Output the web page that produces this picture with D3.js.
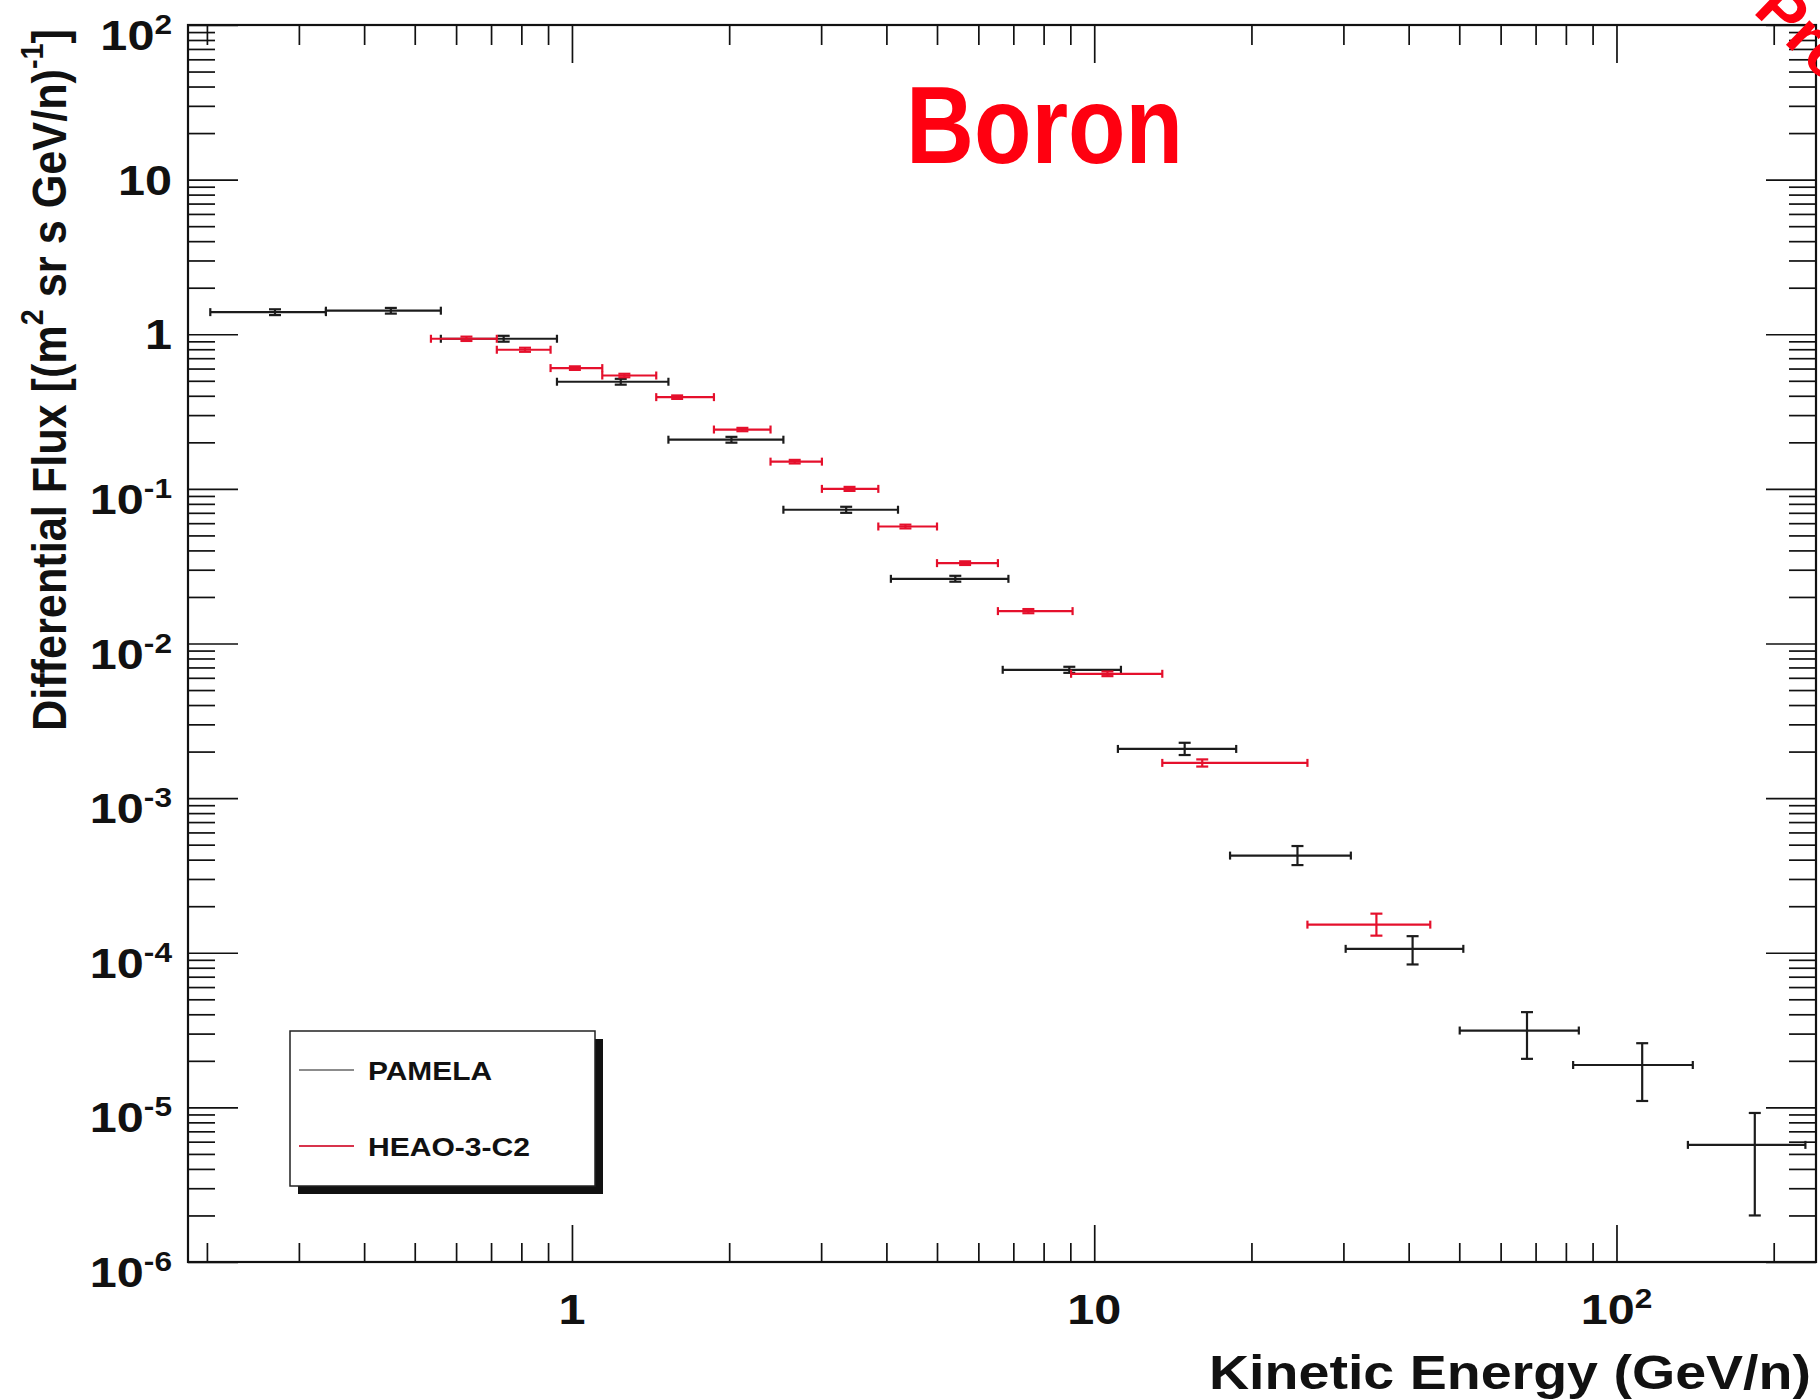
<!DOCTYPE html>
<html>
<head>
<meta charset="utf-8">
<script src="https://cdn.jsdelivr.net/npm/d3@7"></script>
<style>
body { margin: 0; background: #fff; }
text { font-family: "Liberation Sans", Arial, Helvetica, sans-serif; font-weight: bold; fill: #111; }
</style>
</head>
<body>
<script>
// PAMELA boron flux (bin centre, bin edges, flux and its error range)
var pamelaEnergy = [0.27, 0.45, 0.74, 1.24, 2.02, 3.35, 5.42, 8.96, 14.9, 24.5, 40.7, 67.4, 112, 184];
var pamelaELow   = [0.203, 0.338, 0.561, 0.936, 1.53, 2.54, 4.08, 6.68, 11.1, 18.2, 30.3, 50.1, 82.6, 137];
var pamelaEHigh  = [0.338, 0.561, 0.936, 1.53, 2.54, 4.21, 6.85, 11.25, 18.7, 31.0, 50.9, 84.7, 140, 230];
var pamelaFlux   = [1.39, 1.42, 0.935, 0.493, 0.208, 0.0733, 0.0262, 0.00676, 0.00208, 4.25e-4, 1.06e-4, 3.14e-5, 1.88e-5, 5.72e-6];
var pamelaFLow   = [1.33, 1.36, 0.895, 0.472, 0.199, 0.070, 0.0251, 0.00646, 0.00190, 3.69e-4, 8.4e-5, 2.06e-5, 1.10e-5, 2.0e-6];
var pamelaFHigh  = [1.45, 1.48, 0.977, 0.515, 0.217, 0.0766, 0.0274, 0.00707, 0.00228, 4.9e-4, 1.28e-4, 4.13e-5, 2.6e-5, 9.2e-6];

// HEAO-3-C2 boron flux
var heaoEnergy = [0.628, 0.813, 1.013, 1.26, 1.59, 2.12, 2.67, 3.40, 4.35, 5.66, 7.48, 10.6, 16.1, 34.7];
var heaoELow   = [0.537, 0.718, 0.910, 1.143, 1.45, 1.87, 2.40, 3.01, 3.86, 5.0, 6.54, 9.03, 13.5, 25.6];
var heaoEHigh  = [0.718, 0.910, 1.143, 1.45, 1.87, 2.40, 3.01, 3.86, 5.0, 6.54, 9.09, 13.5, 25.6, 44.0];
var heaoFlux   = [0.935, 0.794, 0.604, 0.541, 0.392, 0.242, 0.150, 0.100, 0.0571, 0.0331, 0.0162, 0.00637, 0.00169, 1.52e-4];
var heaoFLow   = [0.905, 0.770, 0.588, 0.527, 0.382, 0.236, 0.146, 0.097, 0.0555, 0.0322, 0.0157, 0.00615, 0.00160, 1.29e-4];
var heaoFHigh  = [0.965, 0.818, 0.620, 0.555, 0.402, 0.248, 0.154, 0.103, 0.0587, 0.0340, 0.0167, 0.00659, 0.00178, 1.79e-4];

// tick labels
var xLabelValues = [1, 10, 100];
var xLabelText = ["1", "10", "10^2"];
var yLabelValues = [100, 10, 1, 0.1, 0.01, 1e-3, 1e-4, 1e-5, 1e-6];
var yLabelText = ["10^2", "10", "1", "10^-1", "10^-2", "10^-3", "10^-4", "10^-5", "10^-6"];

var seriesNames = ["PAMELA", "HEAO-3-C2"];
var seriesColors = ["#1c1c1c", "#e5102c"];
var legendColors = ["#8c8c8c", "#d8344c"];

var width = 1820;
var height = 1400;

var svg = d3.select("body")
  .append("svg")
  .attr("width", width)
  .attr("height", height);

svg.append("rect").attr("width", width).attr("height", height).attr("fill", "#fff");

var x = d3.scaleLog().domain([0.184, 241]).range([188, 1816]);
var y = d3.scaleLog().domain([1e-6, 1e2]).range([1262, 25]);

function isDecade(v) {
  var l = Math.log10(v);
  return Math.abs(l - Math.round(l)) < 1e-9;
}

var xMajor = x.ticks().filter(isDecade);
var xMinor = x.ticks().filter(d => !isDecade(d));
var yMajor = y.ticks().filter(isDecade);
var yMinor = y.ticks().filter(d => !isDecade(d));

// draw one set of ticks with a d3 axis, no domain line, no text
function drawTicks(axisGen, transform, values, size) {
  var g = svg.append("g")
    .attr("transform", transform)
    .call(axisGen.tickValues(values).tickSize(size).tickSizeOuter(0).tickFormat(""));
  g.select(".domain").remove();
  g.selectAll("text").remove();
  g.selectAll("line").attr("stroke", "#111").attr("stroke-width", 1.7);
}

drawTicks(d3.axisBottom(x), "translate(0,1262)", xMinor, -19);
drawTicks(d3.axisBottom(x), "translate(0,1262)", xMajor, -37);
drawTicks(d3.axisTop(x), "translate(0,25)", xMinor, -20);
drawTicks(d3.axisTop(x), "translate(0,25)", xMajor, -38);
drawTicks(d3.axisLeft(y), "translate(188,0)", yMinor, -27);
drawTicks(d3.axisLeft(y), "translate(188,0)", yMajor, -50);
drawTicks(d3.axisRight(y), "translate(1816,0)", yMinor, -27);
drawTicks(d3.axisRight(y), "translate(1816,0)", yMajor, -50);

// frame
svg.append("rect")
  .attr("x", x.range()[0]).attr("y", y.range()[1])
  .attr("width", x.range()[1] - x.range()[0])
  .attr("height", y.range()[0] - y.range()[1])
  .attr("fill", "none").attr("stroke", "#111").attr("stroke-width", 2.2);

// labels like 10^-3 with a raised exponent
function powerLabel(px, py, txt, anchor) {
  var parts = txt.split("^");
  var g = svg.append("g").attr("transform", "translate(" + px + "," + py + ") scale(1.13,1)");
  var t = g.append("text").attr("text-anchor", anchor).attr("font-size", 43);
  t.append("tspan").text(parts[0]);
  if (parts.length > 1) {
    t.append("tspan").attr("font-size", 28).attr("dy", -16).text(parts[1]);
  }
}

xLabelValues.forEach((v, i) => powerLabel(x(v), 1324, xLabelText[i], "middle"));
yLabelValues.forEach((v, i) => {
  var off = yLabelText[i].indexOf("^") >= 0 ? 25 : 15;
  powerLabel(172, y(v) + off, yLabelText[i], "end");
});

// axis titles
svg.append("text")
  .attr("x", 1811).attr("y", 1389)
  .attr("text-anchor", "end")
  .attr("font-size", 49)
  .attr("textLength", 602).attr("lengthAdjust", "spacingAndGlyphs")
  .text("Kinetic Energy (GeV/n)");

var yTitle = svg.append("text")
  .attr("transform", "translate(66,29) rotate(-90)")
  .attr("text-anchor", "end")
  .attr("font-size", 48)
  .attr("textLength", 702).attr("lengthAdjust", "spacingAndGlyphs");
yTitle.append("tspan").text("Differential Flux [(m");
yTitle.append("tspan").attr("font-size", 32).attr("dy", -23).text("2");
yTitle.append("tspan").attr("dy", 23).text(" sr s GeV/n)");
yTitle.append("tspan").attr("font-size", 32).attr("dy", -23).text("-1");
yTitle.append("tspan").attr("dy", 23).text("]");

// error bars
function drawSeries(energy, eLow, eHigh, flux, fLow, fHigh, color) {
  var pts = energy.map((e, i) => ({e: e, lo: eLow[i], hi: eHigh[i], f: flux[i], flo: fLow[i], fhi: fHigh[i]}));
  var g = svg.append("g").attr("stroke", color).attr("stroke-width", 2.2).attr("fill", "none");
  var pt = g.selectAll("g").data(pts).enter().append("g");

  pt.append("line")
    .attr("x1", d => x(d.lo)).attr("x2", d => x(d.hi))
    .attr("y1", d => y(d.f)).attr("y2", d => y(d.f));
  pt.append("line")
    .attr("x1", d => x(d.lo)).attr("x2", d => x(d.lo))
    .attr("y1", d => y(d.f) - 4).attr("y2", d => y(d.f) + 4);
  pt.append("line")
    .attr("x1", d => x(d.hi)).attr("x2", d => x(d.hi))
    .attr("y1", d => y(d.f) - 4).attr("y2", d => y(d.f) + 4);
  pt.append("line")
    .attr("x1", d => x(d.e)).attr("x2", d => x(d.e))
    .attr("y1", d => y(d.fhi)).attr("y2", d => y(d.flo));
  pt.append("line")
    .attr("x1", d => x(d.e) - 6).attr("x2", d => x(d.e) + 6)
    .attr("y1", d => y(d.fhi)).attr("y2", d => y(d.fhi));
  pt.append("line")
    .attr("x1", d => x(d.e) - 6).attr("x2", d => x(d.e) + 6)
    .attr("y1", d => y(d.flo)).attr("y2", d => y(d.flo));
}

drawSeries(pamelaEnergy, pamelaELow, pamelaEHigh, pamelaFlux, pamelaFLow, pamelaFHigh, seriesColors[0]);
drawSeries(heaoEnergy, heaoELow, heaoEHigh, heaoFlux, heaoFLow, heaoFHigh, seriesColors[1]);

// legend with shadow
svg.append("rect").attr("x", 298).attr("y", 1039).attr("width", 305).attr("height", 155).attr("fill", "#111");
svg.append("rect").attr("x", 290).attr("y", 1031).attr("width", 305).attr("height", 155)
  .attr("fill", "#fff").attr("stroke", "#222").attr("stroke-width", 1.5);

var legendY = [1070, 1146];
var legendLen = [124, 162];
seriesNames.forEach((name, i) => {
  svg.append("line")
    .attr("x1", 299).attr("x2", 354)
    .attr("y1", legendY[i]).attr("y2", legendY[i])
    .attr("stroke", legendColors[i]).attr("stroke-width", 2);
  svg.append("text")
    .attr("x", 368).attr("y", legendY[i] + 10)
    .attr("font-size", 26)
    .attr("textLength", legendLen[i]).attr("lengthAdjust", "spacingAndGlyphs")
    .text(name);
});

// title
svg.append("text")
  .attr("x", 906).attr("y", 163)
  .attr("font-family", "'Comic Sans MS', Lato, 'DejaVu Sans', sans-serif")
  .attr("font-size", 110)
  .attr("textLength", 277).attr("lengthAdjust", "spacingAndGlyphs")
  .style("fill", "#ff0010")
  .text("Boron");

// stamp in the corner, mostly off the page
svg.append("text")
  .attr("transform", "translate(1752,12) rotate(44)")
  .attr("font-family", "'Comic Sans MS', Lato, 'DejaVu Sans', sans-serif")
  .attr("font-size", 64)
  .style("fill", "#ff0010")
  .text("Preliminary");
</script>
</body>
</html>
